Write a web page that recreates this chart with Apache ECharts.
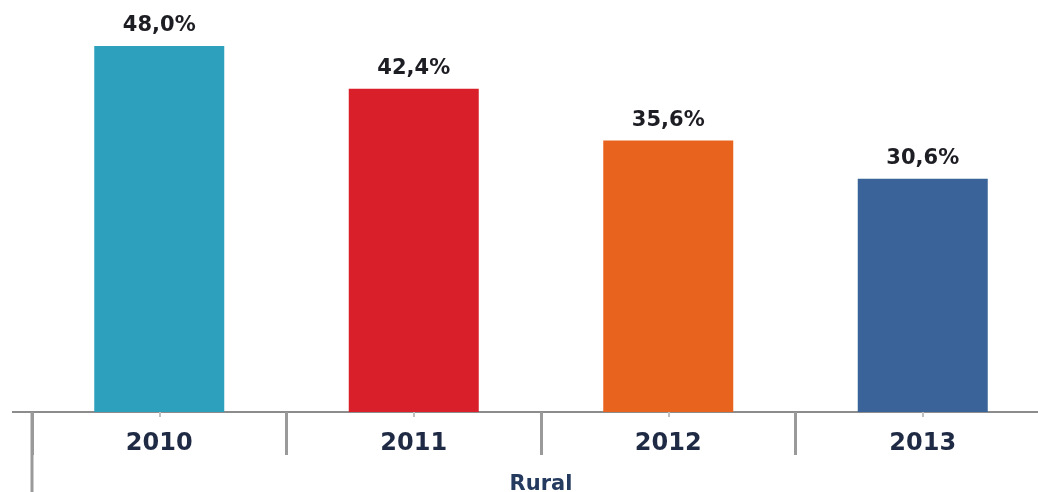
<!DOCTYPE html>
<html>
<head>
<meta charset="utf-8">
<script src="https://cdn.jsdelivr.net/npm/echarts@6/dist/echarts.min.js"></script>
<style>html,body{margin:0;padding:0;background:#fff}#c{width:1038px;height:492px}</style>
</head>
<body>
<div id="c"></div>
<script>
const categories = ['2010', '2011', '2012', '2013'];
const values = [48.0, 42.4, 35.6, 30.6];
const barColors = ['#2ca0bd', '#d91f2a', '#e8641e', '#396399'];
const groupName = 'Rural';

const chart = echarts.init(document.getElementById('c'), null, {renderer: 'canvas'});
const font = 'DejaVu Sans';
chart.setOption({
  animation: false,
  backgroundColor: '#ffffff',
  grid: {left: 32, right: -12, top: 30.75, bottom: 80, containLabel: false, outerBoundsMode: 'none'},
  xAxis: [{
    type: 'category',
    data: categories,
    axisLine: {show: true, lineStyle: {color: '#8c8c8c', width: 2}},
    axisTick: {show: true, length: 43, lineStyle: {color: '#9a9a9a', width: 3}},
    axisLabel: {margin: 20, fontFamily: font, fontWeight: 'bold', fontSize: 24, color: '#1f2a44'},
    name: groupName,
    nameLocation: 'middle',
    nameGap: 62,
    nameTextStyle: {fontFamily: font, fontWeight: 'bold', fontSize: 21, color: '#243a5e'}
  }, {
    type: 'category',
    data: categories,
    position: 'bottom',
    axisLine: {show: false},
    axisTick: {show: true, alignWithLabel: true, length: 5, lineStyle: {color: '#c0c0c0', width: 2}},
    axisLabel: {show: false}
  }],
  yAxis: {
    type: 'value', min: 0, max: 50, show: false,
    splitLine: {show: false}
  },
  graphic: [
    {type: 'line', shape: {x1: 12, y1: 412, x2: 32, y2: 412}, style: {stroke: '#8c8c8c', lineWidth: 2}},
    {type: 'line', shape: {x1: 32, y1: 412, x2: 32, y2: 492}, style: {stroke: '#9a9a9a', lineWidth: 3}}
  ],
  series: [{
    type: 'bar',
    xAxisIndex: 0,
    barWidth: 130,
    data: values.map((v, i) => ({value: v, itemStyle: {color: barColors[i]}})),
    label: {
      show: true, position: 'top', distance: 10,
      fontFamily: font, fontWeight: 'bold', fontSize: 21, color: '#1d1d24',
      formatter: p => p.value.toFixed(1).replace('.', ',') + '%'
    }
  }]
});
</script>
</body>
</html>
